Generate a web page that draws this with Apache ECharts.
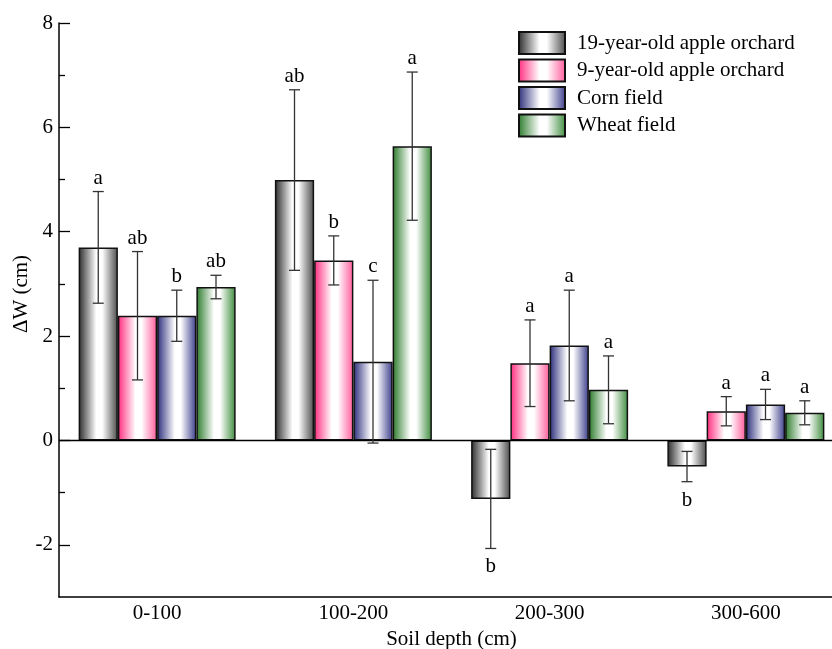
<!DOCTYPE html>
<html>
<head>
<meta charset="utf-8">
<script src="https://cdn.jsdelivr.net/npm/echarts@6/dist/echarts.min.js"></script>
<style>html,body{margin:0;padding:0;background:#fff;}#c{width:832px;height:649px;}</style>
</head>
<body>
<div id="c"></div>
<script>
const categories = ['0-100', '100-200', '200-300', '300-600'];
const seriesNames = ['19-year-old apple orchard', '9-year-old apple orchard', 'Corn field', 'Wheat field'];
const apple19 = [3.70, 4.99, -1.12, -0.50];
const apple19Err = [1.07, 1.73, 0.95, 0.29];
const apple19Sig = ['a', 'ab', 'b', 'b'];
const apple9 = [2.39, 3.45, 1.48, 0.56];
const apple9Err = [1.23, 0.47, 0.83, 0.28];
const apple9Sig = ['ab', 'b', 'a', 'a'];
const corn = [2.39, 1.51, 1.82, 0.69];
const cornErr = [0.49, 1.56, 1.06, 0.29];
const cornSig = ['b', 'c', 'a', 'a'];
const wheat = [2.94, 5.64, 0.97, 0.53];
const wheatErr = [0.225, 1.42, 0.65, 0.23];
const wheatSig = ['ab', 'a', 'a', 'a'];
const yMajorTicks = [-2, 0, 2, 4, 6, 8];
const yMinorTicks = [-1, 1, 3, 5, 7];

const FONT = 'Liberation Serif';
const FS = 21;
const edgeColors = [['#2a2a2a', '#4a4a4a'], ['#ff2a7d', '#ff5b9a'], ['#2a2c7a', '#3b3d8a'], ['#2a7a2a', '#3d8c3d']];
function grad(c) {
  return new echarts.graphic.LinearGradient(0, 0, 1, 0, [
    {offset: 0, color: c[0]},
    {offset: 0.45, color: '#ffffff'},
    {offset: 0.6, color: '#ffffff'},
    {offset: 1, color: c[1]}
  ]);
}
const values = [apple19, apple9, corn, wheat];
const errs = [apple19Err, apple9Err, cornErr, wheatErr];
const sigs = [apple19Sig, apple9Sig, cornSig, wheatSig];

const barSeries = values.map((vals, i) => ({
  type: 'bar',
  name: seriesNames[i],
  data: vals,
  barGap: '0%',
  barCategoryGap: '20%',
  itemStyle: {color: grad(edgeColors[i]), borderColor: '#111', borderWidth: 1.5},
  emphasis: {disabled: true},
  z: 2,
  markLine: i === 0 ? {
    silent: true, symbol: 'none', label: {show: false},
    lineStyle: {color: '#000', type: 'solid', width: 1.3},
    data: [{yAxis: 0}], animation: false
  } : undefined
}));

function errSeries(i) {
  return {
    type: 'custom',
    name: 'err' + i,
    xAxisIndex: 0, yAxisIndex: 0,
    z: 5,
    data: values[i].map((v, k) => [k, v, errs[i][k]]),
    renderItem: function (params, api) {
      const k = api.value(0), v = api.value(1), e = api.value(2);
      const band = api.size([1, 0])[0];
      const bw = band * 0.8 / 4;
      const c = api.coord([k, v]);
      const x = c[0] + (i - 1.5) * bw;
      const yTop = api.coord([k, v + e])[1];
      const yBot = api.coord([k, v - e])[1];
      const cap = 5.5;
      const st = {stroke: '#333', lineWidth: 1.3};
      const pos = v >= 0;
      return {
        type: 'group',
        children: [
          {type: 'line', shape: {x1: x, y1: yTop, x2: x, y2: yBot}, style: st},
          {type: 'line', shape: {x1: x - cap, y1: yTop, x2: x + cap, y2: yTop}, style: st},
          {type: 'line', shape: {x1: x - cap, y1: yBot, x2: x + cap, y2: yBot}, style: st},
          {type: 'text', x: x, y: pos ? yTop - 3 : yBot + 8,
            style: {text: sigs[i][k], fill: '#000', fontSize: FS, fontFamily: FONT,
              align: 'center', verticalAlign: pos ? 'bottom' : 'top'}}
        ]
      };
    }
  };
}

const chart = echarts.init(document.getElementById('c'), null, {renderer: 'canvas'});
chart.setOption({
  animation: false,
  backgroundColor: '#fff',
  textStyle: {fontFamily: FONT},
  grid: {left: 59, right: -12, top: 23, bottom: 52, containLabel: false, outerBoundsMode: 'none'},
  legend: {
    data: seriesNames,
    orient: 'vertical', left: 518, top: 31, padding: 0,
    icon: 'rect', itemWidth: 46, itemHeight: 22, itemGap: 3.5,
    textStyle: {fontSize: FS, fontFamily: FONT, color: '#000', padding: [0, 0, 0, 7]},
    selectedMode: false
  },
  xAxis: [{
    type: 'category', data: categories, position: 'bottom',
    axisLine: {onZero: false, lineStyle: {color: '#000', width: 1.5}},
    axisTick: {alignWithLabel: true, inside: true, length: 10, lineStyle: {color: '#000', width: 1.3}},
    axisLabel: {fontSize: FS, fontFamily: FONT, color: '#000', margin: 6},
    name: 'Soil depth (cm)', nameLocation: 'middle', nameGap: 32,
    nameTextStyle: {fontSize: FS, fontFamily: FONT, color: '#000'},
    splitLine: {show: false}
  }, {
    type: 'category', data: categories, position: 'bottom',
    axisLine: {show: false, onZero: false},
    axisTick: {inside: true, length: 5, lineStyle: {color: '#000', width: 1.3}},
    axisLabel: {show: false},
    splitLine: {show: false}
  }],
  yAxis: [{
    type: 'value', min: -3, max: 8, position: 'left',
    axisLine: {show: true, onZero: false, lineStyle: {color: '#000', width: 1.5}},
    axisTick: {show: true, inside: true, length: 11, customValues: yMajorTicks, lineStyle: {color: '#000', width: 1.3}},
    axisLabel: {fontSize: FS, fontFamily: FONT, color: '#000', margin: 6, customValues: yMajorTicks},
    splitLine: {show: false},
    name: 'ΔW (cm)', nameLocation: 'middle', nameGap: 27, nameRotate: 90, nameMoveOverlap: false,
    nameTextStyle: {fontSize: FS, fontFamily: FONT, color: '#000', padding: [0, 0, 0, 32]}
  }, {
    type: 'value', min: -3, max: 8, position: 'left',
    axisLine: {show: false, onZero: false},
    axisTick: {show: true, inside: true, length: 6, customValues: yMinorTicks, lineStyle: {color: '#000', width: 1.3}},
    axisLabel: {show: false},
    splitLine: {show: false}
  }],
  series: barSeries.concat([0, 1, 2, 3].map(errSeries))
});
</script>
</body>
</html>
